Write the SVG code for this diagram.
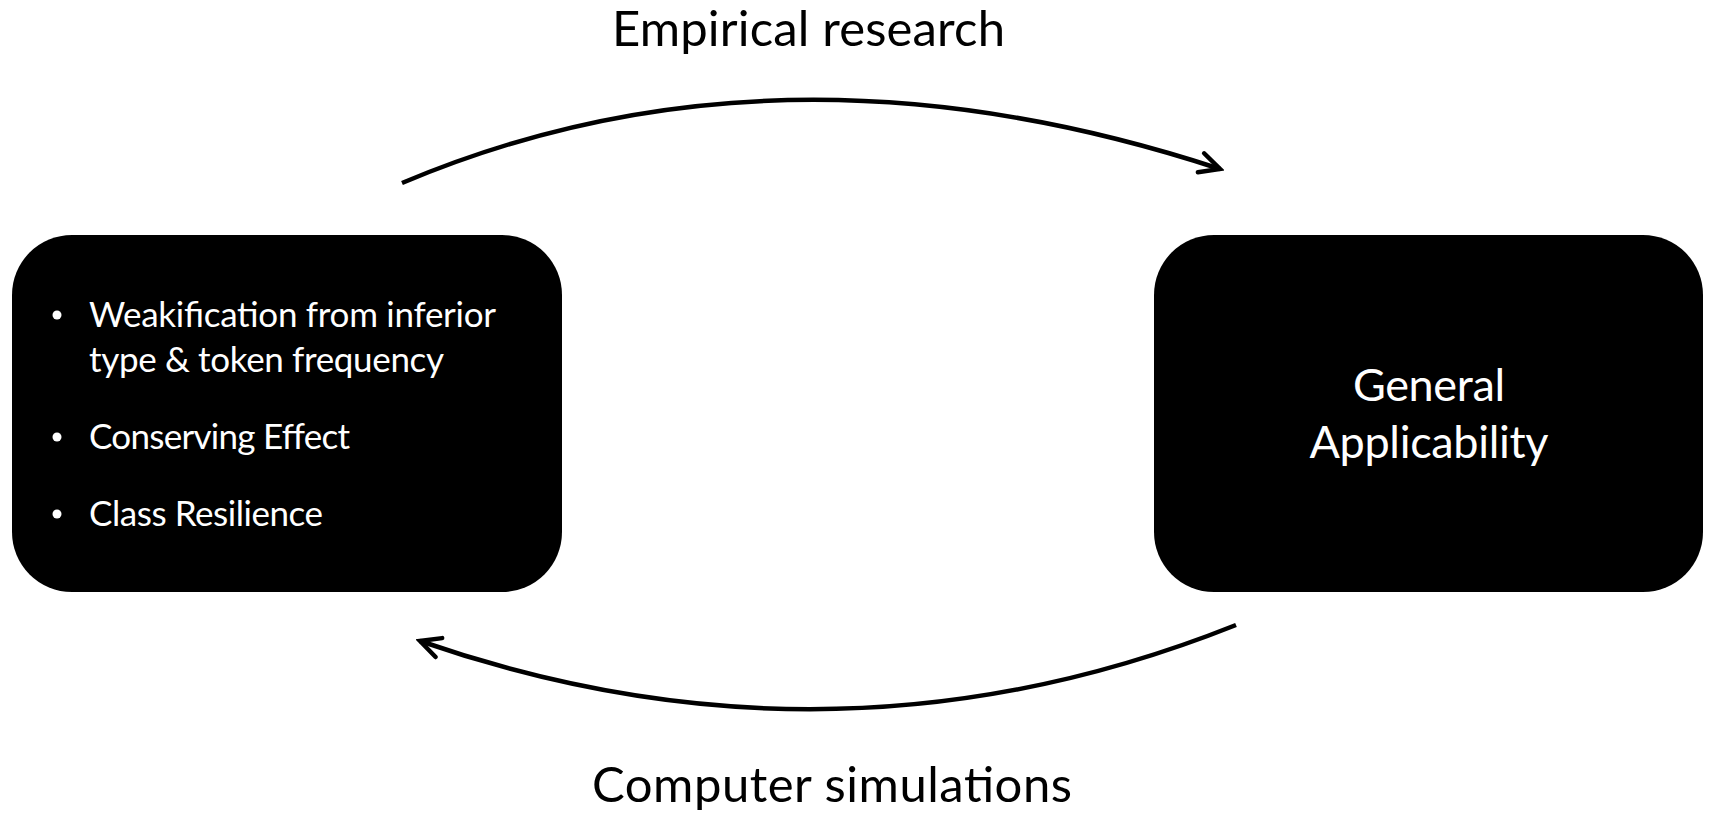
<svg xmlns="http://www.w3.org/2000/svg" width="1710" height="815" viewBox="0 0 1710 815">
  <style>
    .box { fill: #000; }
    .inner { font-family: Lato, "Open Sans", "Liberation Sans", sans-serif; fill: #fff; }
    .item { font-size: 35px; }
    .dot { fill: #fff; }
    .title { font-size: 45px; text-anchor: middle; }
    .label { font-family: Lato, "Open Sans", "Liberation Sans", sans-serif; fill: #000; font-size: 49px; }
    .flow { fill: none; stroke: #000; stroke-width: 4.5; marker-end: url(#head); }
  </style>
  <defs>
    <marker id="head" markerUnits="userSpaceOnUse" viewBox="-24 -14 28 28" refX="0" refY="0" markerWidth="28" markerHeight="28" orient="auto">
      <path d="M-20,-10 L0,0 L-20,10" fill="none" stroke="#000" stroke-width="4.5" stroke-linecap="round" stroke-linejoin="miter"/>
    </marker>
  </defs>

  <!-- findings box -->
  <g id="findings">
    <rect class="box" x="12" y="235" width="550" height="357" rx="60" ry="60"/>
    <g class="inner item">
      <circle class="dot" cx="57" cy="315" r="4.5"/>
      <text x="89" y="327" textLength="407">Weakification from inferior</text>
      <text x="89" y="372" textLength="355">type &amp; token frequency</text>
      <circle class="dot" cx="57" cy="437" r="4.5"/>
      <text x="89" y="449" textLength="261">Conserving Effect</text>
      <circle class="dot" cx="57" cy="514" r="4.5"/>
      <text x="89" y="526" textLength="234">Class Resilience</text>
    </g>
  </g>

  <!-- applicability box -->
  <g id="applicability">
    <rect class="box" x="1154" y="235" width="549" height="357" rx="60" ry="60"/>
    <g class="inner title">
      <text x="1429" y="401" textLength="152">General</text>
      <text x="1429" y="458" textLength="239">Applicability</text>
    </g>
  </g>

  <!-- cycle connectors -->
  <g id="connectors">
    <path class="flow" d="M402,183 Q778,24 1220,169"/>
    <path class="flow" d="M1236,625 Q835,785 420,641"/>
  </g>

  <g id="labels">
    <text class="label" x="612" y="46" textLength="393">Empirical research</text>
    <text class="label" x="592" y="802" textLength="480">Computer simulations</text>
  </g>
</svg>
